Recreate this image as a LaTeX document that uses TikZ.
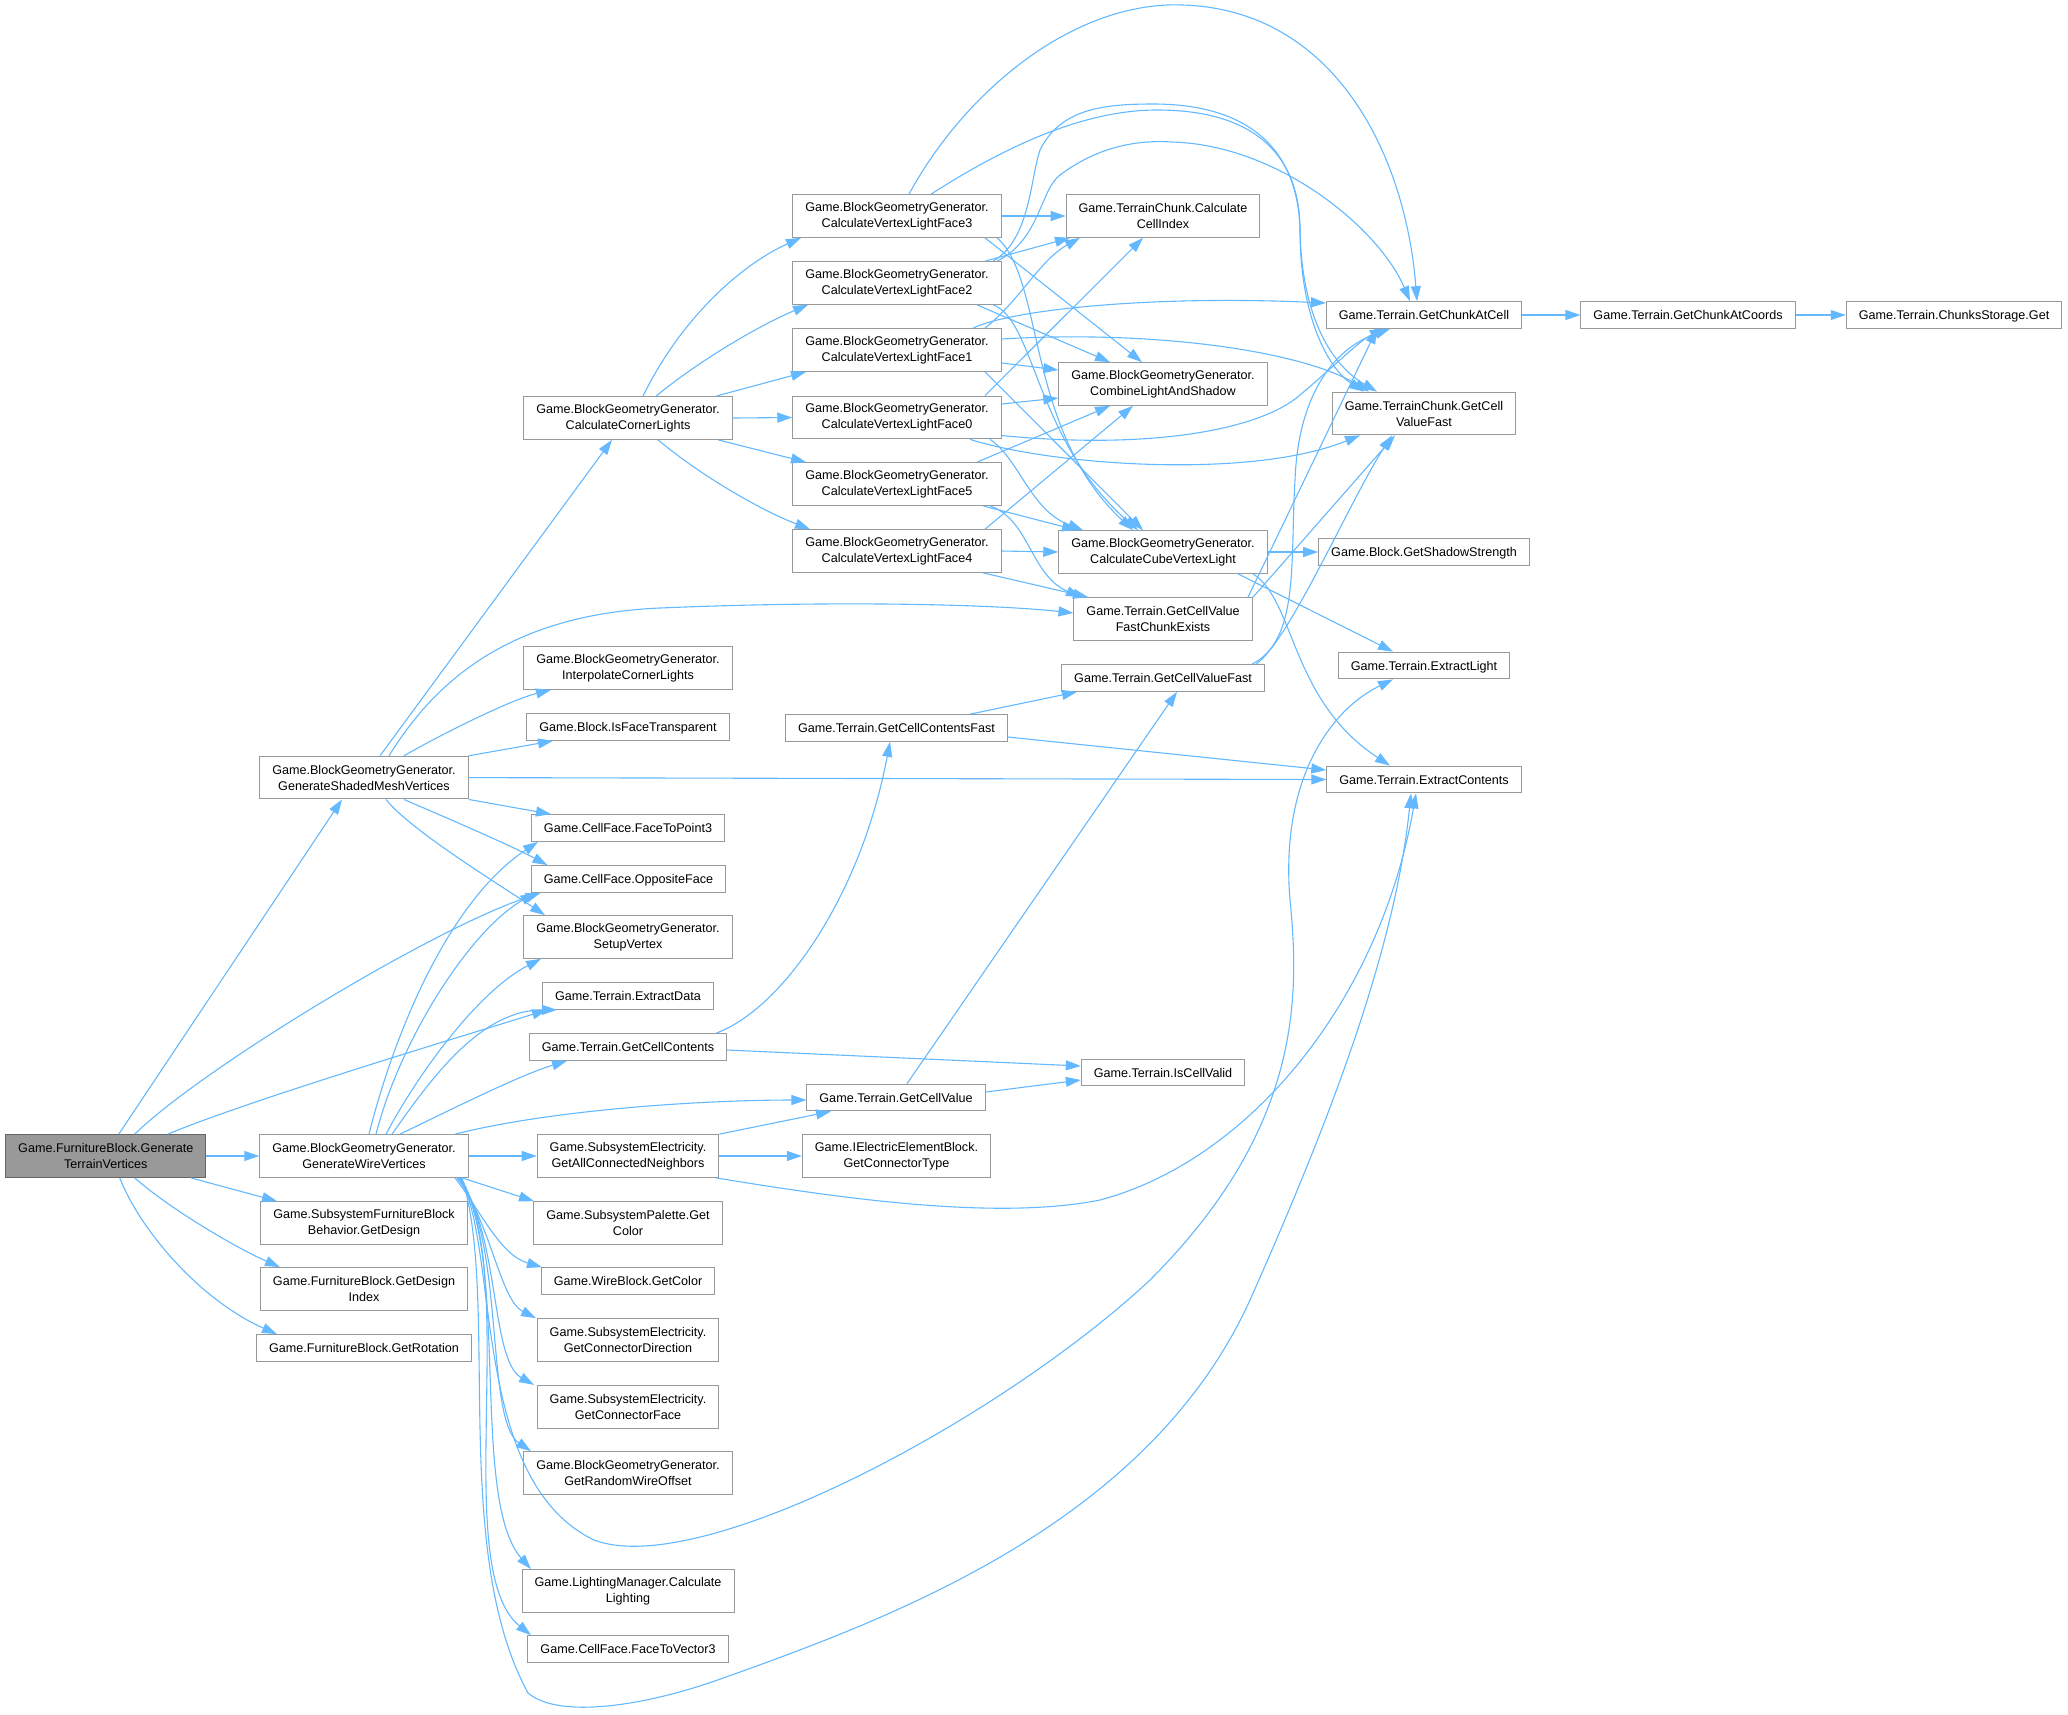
\documentclass[tikz,border=0pt]{standalone}
\usepackage{fontspec}
\setmainfont{Liberation Sans}
\usetikzlibrary{arrows.meta}
\definecolor{edg}{HTML}{63B8FF}
\definecolor{brd}{HTML}{999999}
\definecolor{rootf}{HTML}{999999}
\definecolor{rootb}{HTML}{666666}
\tikzset{
  box/.style={draw=brd, fill=white, line width=1pt, inner xsep=12.5pt, inner ysep=0pt, font=\fontsize{12.6}{16}\selectfont},
  fn/.style={box, minimum height=26.7pt, text height=10.5pt, text depth=1.1pt},
  fn2/.style={box, align=center, minimum height=42.7pt},
  root/.style={fn2, fill=rootf, draw=rootb},
  call/.style={draw=edg, line width=1.1pt, -{Triangle[length=15pt,width=10pt]}}
}
\begin{document}
\begin{tikzpicture}[x=1pt,y=-1pt]
\useasboundingbox (0,0) rectangle (2068,1714);

\node[root] (fb) at (105.75,1156) {Game.FurnitureBlock.Generate\\TerrainVertices};

\node[fn2] (gsmv) at (364,777.6) {Game.BlockGeometryGenerator.\\GenerateShadedMeshVertices};
\node[fn2] (gwv) at (364,1156) {Game.BlockGeometryGenerator.\\GenerateWireVertices};
\node[fn2] (sfbb) at (364,1223) {Game.SubsystemFurnitureBlock\\Behavior.GetDesign};
\node[fn2] (fbgdi) at (364,1289) {Game.FurnitureBlock.GetDesign\\Index};
\node[fn] (fbgr) at (364,1348) {Game.FurnitureBlock.GetRotation};

\node[fn2] (ccl) at (628,418) {Game.BlockGeometryGenerator.\\CalculateCornerLights};
\node[fn2] (icl) at (628,668) {Game.BlockGeometryGenerator.\\InterpolateCornerLights};
\node[fn] (ift) at (628,727) {Game.Block.IsFaceTransparent};
\node[fn] (ftp3) at (628,828) {Game.CellFace.FaceToPoint3};
\node[fn] (opp) at (628.5,879) {Game.CellFace.OppositeFace};
\node[fn2] (setup) at (628,937) {Game.BlockGeometryGenerator.\\SetupVertex};
\node[fn] (exd) at (628,996) {Game.Terrain.ExtractData};
\node[fn] (gcc) at (628,1047) {Game.Terrain.GetCellContents};
\node[fn2] (gacn) at (628,1156) {Game.SubsystemElectricity.\\GetAllConnectedNeighbors};
\node[fn2] (spgc) at (628,1223) {Game.SubsystemPalette.Get\\Color};
\node[fn] (wbgc) at (628,1281) {Game.WireBlock.GetColor};
\node[fn2] (gcd) at (628,1340) {Game.SubsystemElectricity.\\GetConnectorDirection};
\node[fn2] (gcf) at (628,1406.7) {Game.SubsystemElectricity.\\GetConnectorFace};
\node[fn2] (grwo) at (628,1473) {Game.BlockGeometryGenerator.\\GetRandomWireOffset};
\node[fn2] (lmcl) at (628,1591) {Game.LightingManager.Calculate\\Lighting};
\node[fn] (ftv3) at (628,1649) {Game.CellFace.FaceToVector3};

\node[fn2] (cvlf3) at (897,216) {Game.BlockGeometryGenerator.\\CalculateVertexLightFace3};
\node[fn2] (cvlf2) at (897,283) {Game.BlockGeometryGenerator.\\CalculateVertexLightFace2};
\node[fn2] (cvlf1) at (897,350) {Game.BlockGeometryGenerator.\\CalculateVertexLightFace1};
\node[fn2] (cvlf0) at (897,417.5) {Game.BlockGeometryGenerator.\\CalculateVertexLightFace0};
\node[fn2] (cvlf5) at (897,484) {Game.BlockGeometryGenerator.\\CalculateVertexLightFace5};
\node[fn2] (cvlf4) at (897,551) {Game.BlockGeometryGenerator.\\CalculateVertexLightFace4};
\node[fn] (gccf) at (896.5,728) {Game.Terrain.GetCellContentsFast};
\node[fn] (gcv) at (896,1097.5) {Game.Terrain.GetCellValue};
\node[fn2] (gct) at (896.5,1156) {Game.IElectricElementBlock.\\GetConnectorType};

\node[fn2] (cci) at (1163,216) {Game.TerrainChunk.Calculate\\CellIndex};
\node[fn2] (clas) at (1163,384) {Game.BlockGeometryGenerator.\\CombineLightAndShadow};
\node[fn2] (ccvl) at (1163,552) {Game.BlockGeometryGenerator.\\CalculateCubeVertexLight};
\node[fn2] (gcvfce) at (1163,619) {Game.Terrain.GetCellValue\\FastChunkExists};
\node[fn] (gcvf) at (1163,678) {Game.Terrain.GetCellValueFast};
\node[fn] (icv) at (1163,1072.5) {Game.Terrain.IsCellValid};

\node[fn] (gcac) at (1424,315) {Game.Terrain.GetChunkAtCell};
\node[fn2] (tcgcvf) at (1424,413.5) {Game.TerrainChunk.GetCell\\ValueFast};
\node[fn] (gss) at (1424,552) {Game.Block.GetShadowStrength};
\node[fn] (el) at (1424,665.5) {Game.Terrain.ExtractLight};
\node[fn] (ec) at (1424,779.5) {Game.Terrain.ExtractContents};
\node[fn] (gcaco) at (1688,315) {Game.Terrain.GetChunkAtCoords};
\node[fn] (csg) at (1954,315) {Game.Terrain.ChunksStorage.Get};

% root
\draw[call] ([xshift=13]fb.north) -- ([xshift=-22]gsmv.south);
\draw[call] ([xshift=29]fb.north) .. controls (200,1070) and (430,930) .. ([xshift=-88]opp.south);
\draw[call] ([xshift=62]fb.north) .. controls (250,1100) and (450,1040) .. ([xshift=-81]exd.south);
\draw[call] (fb.east) -- (gwv.west);
\draw[call] ([xshift=85]fb.south) -- ([xshift=-87]sfbb.north);
\draw[call] ([xshift=29]fb.south) .. controls (165,1205) and (230,1245) .. ([xshift=-84]fbgdi.north);
\draw[call] ([xshift=14]fb.south) .. controls (140,1230) and (200,1300) .. ([xshift=-87]fbgr.north);

% shaded mesh
\draw[call] (gsmv) -- (ccl);
\draw[call] ([xshift=40]gsmv.north) .. controls (440,735) and (510,700) .. ([xshift=-77]icl.south);
\draw[call] (gsmv.north east) -- ([xshift=-75]ift.south);
\draw[call] ([xshift=25]gsmv.north) .. controls (430,690) and (500,615) .. (660,608) .. controls (850,600) and (1000,605) .. ([yshift=6]gcvfce.west);
\draw[call] (gsmv.east) -- (ec.west);
\draw[call] (gsmv.south east) -- ([xshift=-77]ftp3.north);
\draw[call] ([xshift=40]gsmv.south) .. controls (440,815) and (510,845) .. ([xshift=-81]opp.north);
\draw[call] ([xshift=22]gsmv.south) .. controls (410,830) and (500,885) .. ([xshift=-83]setup.north);

% corner lights
\draw[call] ([xshift=15]ccl.north) .. controls (680,320) and (740,265) .. ([xshift=-96]cvlf3.south);
\draw[call] ([xshift=28]ccl.north) .. controls (700,360) and (760,325) .. ([xshift=-89]cvlf2.south);
\draw[call] ([xshift=88]ccl.north) -- ([xshift=-91]cvlf1.south);
\draw[call] (ccl.east) -- (cvlf0.west);
\draw[call] ([xshift=90]ccl.south) -- ([xshift=-91]cvlf5.north);
\draw[call] ([xshift=30]ccl.south) .. controls (700,475) and (760,510) .. ([xshift=-87]cvlf4.north);

% faces
\draw[call] (cvlf3.east) -- (cci.west);
\draw[call] ([xshift=12]cvlf3.north) .. controls (960,100) and (1060,10) .. (1167,5) .. controls (1330,0) and (1405,150) .. ([xshift=-7]gcac.north);
\draw[call] ([xshift=34]cvlf3.north) .. controls (1000,150) and (1080,110) .. (1157,110) .. controls (1260,110) and (1300,160) .. (1300,230) .. controls (1300,320) and (1330,370) .. ([xshift=-60]tcgcvf.north);
\draw[call] ([xshift=88]cvlf3.south) -- ([xshift=-21]clas.north);
\draw[call] ([xshift=100]cvlf3.south) .. controls (1045,280) and (1025,430) .. ([xshift=-30]ccvl.north);

\draw[call] ([xshift=88]cvlf2.north) -- ([xshift=-93]cci.south);
\draw[call] ([xshift=96]cvlf2.north) .. controls (1030,240) and (1030,180) .. (1040,150) .. controls (1060,110) and (1100,104) .. (1153,104) .. controls (1250,104) and (1298,150) .. (1300,230) .. controls (1302,330) and (1340,370) .. ([xshift=-47]tcgcvf.north);
\draw[call] ([xshift=100]cvlf2.north) .. controls (1040,240) and (1040,190) .. (1060,175) .. controls (1100,145) and (1140,140) .. (1172,142) .. controls (1280,145) and (1380,230) .. ([xshift=-14]gcac.north);
\draw[call] ([xshift=80]cvlf2.south) -- ([xshift=-53]clas.north);
\draw[call] ([xshift=96]cvlf2.south) .. controls (1035,320) and (1035,440) .. ([xshift=-25]ccvl.north);

\draw[call] ([xshift=88]cvlf1.north) .. controls (1020,300) and (1040,260) .. ([xshift=-83]cci.south);
\draw[call] ([xshift=76]cvlf1.north) .. controls (1010,310) and (1150,295) .. ([yshift=12]gcac.west);
\draw[call] ([yshift=11]cvlf1.east) .. controls (1150,330) and (1300,350) .. ([xshift=-55]tcgcvf.north);
\draw[call] ([yshift=-13]cvlf1.east) -- ([yshift=14]clas.west);
\draw[call] ([xshift=88]cvlf1.south) -- ([xshift=-20]ccvl.north);

\draw[call] ([xshift=88]cvlf0.north) -- ([xshift=-20]cci.south);
\draw[call] ([yshift=13.5]cvlf0.east) -- ([yshift=-14]clas.west);
\draw[call] ([yshift=-18]cvlf0.east) .. controls (1150,450) and (1260,430) .. (1300,395) .. controls (1330,370) and (1360,340) .. ([xshift=-39]gcac.south);
\draw[call] ([xshift=73]cvlf0.south) .. controls (1050,465) and (1250,480) .. ([xshift=-64]tcgcvf.south);
\draw[call] ([xshift=93]cvlf0.south) .. controls (1020,460) and (1030,510) .. ([xshift=-80]ccvl.north);

\draw[call] ([xshift=80]cvlf5.north) -- ([xshift=-53]clas.south);
\draw[call] ([xshift=86]cvlf5.south) -- ([xshift=-86]ccvl.north);
\draw[call] ([xshift=93]cvlf5.south) .. controls (1030,520) and (1030,575) .. ([xshift=-82]gcvfce.north);

\draw[call] ([xshift=88]cvlf4.north) -- ([xshift=-30]clas.south);
\draw[call] (cvlf4.east) -- (ccvl.west);
\draw[call] ([xshift=86]cvlf4.south) -- ([xshift=-75]gcvfce.north);

% terrain lookups
\draw[call] ([xshift=85]gcvfce.north) -- ([xshift=-47]gcac.south);
\draw[call] ([xshift=90]gcvfce.north) -- ([xshift=-29]tcgcvf.south);
\draw[call] ([xshift=89]gcvf.north) .. controls (1300,640) and (1290,560) .. (1295,480) .. controls (1298,400) and (1330,350) .. ([xshift=-34]gcac.south);
\draw[call] ([xshift=93]gcvf.north) .. controls (1290,640) and (1350,500) .. ([xshift=-32]tcgcvf.south);
\draw[call] ([xshift=73.5]gccf.north) -- ([xshift=-86]gcvf.south);
\draw[call] ([yshift=-9]gccf.east) -- ([yshift=9.5]ec.west);
\draw[call] ([xshift=88]gcc.north) .. controls (780,1010) and (860,900) .. ([xshift=-6.5]gccf.south);
\draw[call] ([yshift=-3]gcc.east) -- ([yshift=6.5]icv.west);
\draw[call] ([xshift=11]gcv.north) -- ([xshift=14]gcvf.south);
\draw[call] ([yshift=5.5]gcv.east) -- ([yshift=-7.5]icv.west);
\draw[call] (gacn.north east) -- ([xshift=-65]gcv.south);
\draw[call] (gacn.east) -- (gct.west);
\draw[call] ([xshift=88]gacn.south) .. controls (850,1200) and (1000,1220) .. (1100,1200) .. controls (1250,1160) and (1380,1000) .. ([xshift=-8]ec.south);

\draw[call] (ccvl.east) -- (gss.west);
\draw[call] ([xshift=75]ccvl.south) -- ([xshift=-31]el.north);
\draw[call] ([xshift=90]ccvl.south) .. controls (1295,600) and (1290,700) .. ([xshift=-34]ec.north);
\draw[call] (gcac.east) -- (gcaco.west);
\draw[call] (gcaco.east) -- (csg.west);

% wire vertices
\draw[call] ([xshift=5]gwv.north) .. controls (395,1030) and (450,900) .. ([xshift=-90]ftp3.south);
\draw[call] ([xshift=12]gwv.north) .. controls (400,1040) and (470,930) .. ([xshift=-93]opp.south);
\draw[call] ([xshift=22]gwv.north) .. controls (420,1070) and (480,990) .. ([xshift=-87]setup.south);
\draw[call] ([xshift=28]gwv.north) .. controls (430,1080) and (480,1010) .. ([xshift=-71]exd.south);
\draw[call] ([xshift=36]gwv.north) .. controls (450,1110) and (520,1075) .. ([xshift=-61]gcc.south);
\draw[call] ([xshift=91]gwv.north) .. controls (550,1110) and (700,1100) .. ([yshift=-2.5]gcv.west);
\draw[call] (gwv.east) -- (gacn.west);
\draw[call] ([xshift=98]gwv.south) -- ([xshift=-94]spgc.north);
\draw[call] ([xshift=91]gwv.south) .. controls (480,1210) and (500,1255) .. ([xshift=-86]wbgc.north);
\draw[call] ([xshift=93]gwv.south) .. controls (490,1220) and (500,1300) .. ([xshift=-92]gcd.north);
\draw[call] ([xshift=94]gwv.south) .. controls (500,1230) and (490,1360) .. ([xshift=-94]gcf.north);
\draw[call] ([xshift=95]gwv.south) .. controls (505,1240) and (485,1420) .. ([xshift=-97]grwo.north);
\draw[call] ([xshift=96]gwv.south) .. controls (510,1260) and (470,1500) .. ([xshift=-97]lmcl.north);
\draw[call] ([xshift=97]gwv.south) .. controls (520,1280) and (450,1570) .. ([xshift=-97]ftv3.north);
\draw[call] ([xshift=96]gwv.south) .. controls (500,1250) and (470,1480) .. (594,1540) .. controls (700,1580) and (1000,1420) .. (1150,1280) .. controls (1300,1130) and (1300,1000) .. (1290,900) .. controls (1280,780) and (1330,710) .. ([xshift=-31]el.south);
\draw[call] ([xshift=98]gwv.south) .. controls (500,1300) and (450,1550) .. (528,1693) .. controls (560,1720) and (650,1705) .. (726,1677) .. controls (900,1615) and (1150,1520) .. (1250,1300) .. controls (1330,1120) and (1395,950) .. ([xshift=-13]ec.south);
\end{tikzpicture}
\end{document}
